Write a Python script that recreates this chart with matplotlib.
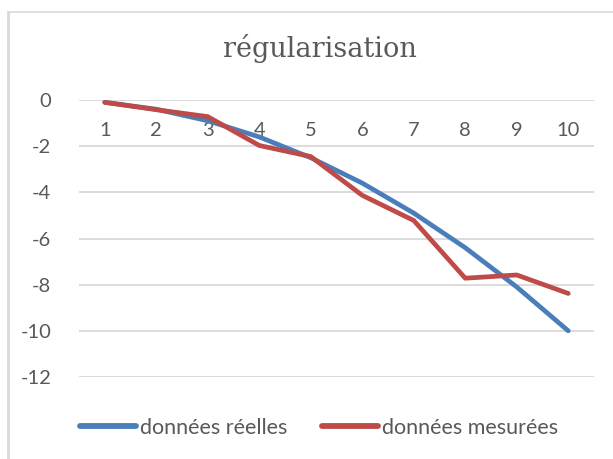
import matplotlib
matplotlib.use("Agg")
import matplotlib.pyplot as plt
from matplotlib.lines import Line2D

categories = [1, 2, 3, 4, 5, 6, 7, 8, 9, 10]
reelles = [-0.1, -0.4, -0.9, -1.6, -2.5, -3.6, -4.9, -6.4, -8.1, -10.0]
mesurees = [-0.1, -0.42, -0.72, -1.97, -2.45, -4.13, -5.22, -7.72, -7.58, -8.38]
yticks = [0, -2, -4, -6, -8, -10, -12]

W, H = 613, 459
fig = plt.figure(figsize=(W / 100, H / 100), dpi=100)
fig.patch.set_facecolor("white")

left, right, top, bottom = 79, 594, 100, 377
ax = fig.add_axes([left / W, 1 - bottom / H, (right - left) / W, (bottom - top) / H])

text_col = "#595959"
font = "Lato"
blue = "#4A7EBB"
red = "#BE4B48"

ax.plot(categories, reelles, color=blue, lw=3.4, solid_capstyle="round",
        solid_joinstyle="round", zorder=3, label="données réelles")
ax.plot(categories, mesurees, color=red, lw=3.4, solid_capstyle="round",
        solid_joinstyle="round", zorder=4, label="données mesurées")

ax.set_xlim(0.5, 10.5)
ax.set_ylim(-12, 0)
ax.set_yticks(yticks)
ax.set_yticklabels([str(v) for v in yticks], fontsize=14.5, color=text_col, family=font)
ax.tick_params(axis="y", length=0, pad=20)
ax.set_xticks([])
ax.yaxis.grid(True, color="#D9D9D9", lw=1.3)
ax.set_axisbelow(True)
for s in ax.spines.values():
    s.set_visible(False)
ax.patch.set_alpha(0)

# category labels under the horizontal axis (at y=0)
for c in categories:
    ax.annotate(str(c), xy=(c, 0), xycoords="data", xytext=(0, -22),
                textcoords="offset points", ha="center", va="center",
                fontsize=14.5, color=text_col, family=font, zorder=2)

fig.text(320 / W, 1 - 48.5 / H, "régularisation", ha="center", va="center",
         fontsize=19.5, color=text_col, family="DejaVu Serif")

handles = [Line2D([0], [0], color=blue, lw=4.2, solid_capstyle="round"),
           Line2D([0], [0], color=red, lw=4.2, solid_capstyle="round")]
leg = fig.legend(handles, ["données réelles", "données mesurées"], loc="center",
                 bbox_to_anchor=(319 / W, 1 - 428 / H), ncol=2, frameon=False,
                 handlelength=2.6, handletextpad=0.2, columnspacing=1.6,
                 prop={"family": font, "size": 15.5})
for t in leg.get_texts():
    t.set_color(text_col)

# chart border (top and left visible)
fig.add_artist(Line2D([8 / W, 1], [1 - 12 / H, 1 - 12 / H], color="#D9D9D9", lw=1.2,
                      transform=fig.transFigure))
fig.add_artist(Line2D([8 / W, 8 / W], [1 - 12 / H, 0], color="#D9D9D9", lw=2,
                      transform=fig.transFigure))

fig.savefig("out.png", dpi=100, facecolor="white")
